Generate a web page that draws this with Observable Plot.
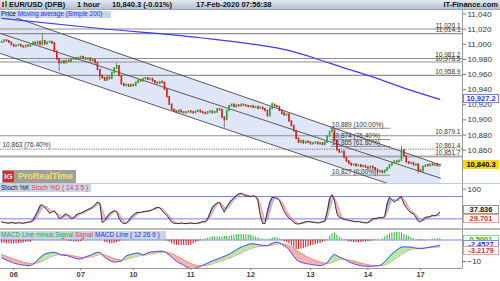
<!DOCTYPE html>
<html>
<head>
<meta charset="utf-8">
<script src="https://cdn.jsdelivr.net/npm/d3@7"></script>
<script src="https://cdn.jsdelivr.net/npm/@observablehq/plot@0.6"></script>
<style>
  html,body{margin:0;padding:0;background:#fff;}
  #root{position:relative;width:500px;height:281px;overflow:hidden;background:#fff;font-family:"Liberation Sans",Arial,sans-serif;}
</style>
</head>
<body>
<div id="root"></div>
<script>
// ---------------- DATA ----------------
const dayIdx = [5, 33, 55, 79, 104, 129, 153, 175];
const dayLabels = ["06", "07", "10", "11", "12", "13", "14", "17"];

const firstOpen = 11002;
const closes = [
  11003, 11005, 11004, 11002, 10999, 10997, 10998, 10999, 10997, 10996,
  10998, 10997, 10999, 11002, 11000, 11003, 10999, 11004, 11000, 11002,
  11003, 11001, 10990, 10980, 10975, 10977, 10975, 10978, 10977, 10980,
  10981, 10980, 10982, 10983, 10981, 10980, 10981, 10978, 10979, 10975,
  10966, 10958, 10955, 10952, 10956, 10954, 10962, 10968, 10971, 10958,
  10947, 10945, 10946, 10944, 10946, 10945, 10949, 10952, 10951, 10954,
  10955, 10953, 10954, 10951, 10949, 10948, 10950, 10949, 10940, 10930,
  10920, 10913, 10911, 10910, 10912, 10910, 10909, 10910, 10911, 10910,
  10909, 10911, 10912, 10910, 10909, 10908, 10910, 10911, 10909, 10910,
  10914, 10913, 10903, 10900, 10912, 10918, 10920, 10917, 10919, 10918,
  10920, 10919, 10918, 10917, 10918, 10916, 10917, 10915, 10916, 10914,
  10912, 10905, 10915, 10920, 10918, 10917, 10912, 10908, 10906, 10907,
  10898, 10892, 10885, 10875, 10870, 10872, 10869, 10871, 10870, 10868,
  10869, 10870, 10868, 10869, 10867, 10870, 10878, 10884, 10886, 10872,
  10860, 10857, 10858, 10850, 10845, 10842, 10840, 10841, 10839, 10840,
  10838, 10839, 10837, 10836, 10838, 10836, 10834, 10831, 10832, 10830,
  10833, 10836, 10840, 10843, 10845, 10844, 10846, 10860, 10852, 10844,
  10842, 10843, 10840, 10841, 10833, 10832, 10838, 10840, 10839, 10841,
  10840, 10841, 10839, 10840.3
];
const spikes = [[17, 11014, null], [24, null, 10964], [41, null, 10952], [48, 10975, null], [93, null, 10889],
  [113, 10923, null], [118, 10911, null], [138, 10889, null], [157, null, 10827], [167, 10865, null], [174, null, 10829]];

const maIdx = [0, 41, 83, 104, 121, 133, 142, 153, 171, 183];
const maVal = [11034.1, 11020.8, 11008.6, 11000.6, 10990.9, 10979.2, 10969.7, 10958.8, 10939, 10927.2];

const chanIdx = [-0.5, 183.3];
const chanUpper = [11042, 10840.5];
const chanMiddle = [11014.2, 10823];
const chanLower = [10987.8, 10792.6];

const levelVals = [11020.1, 11014.1, 10981.2, 10976.5, 10958.9, 10879.1];
const levelLabels = ["11,020.1", "11,014.1", "10,981.2", "10,976.5", "10,958.9", "10,879.1"];
const dotLevel = 10861.4, dotLabel = "10,861.4", dotLeftLabel = "10,863 (76.40%)";
const thickLevel = 10851.7, thickLabel = "10,851.7";

const fibVals = [10889, 10874, 10865, 10827];
const fibLabels = ["10,889 (100.00%)", "10,874 (76.40%)", "10,865 (61.80%)", "10,827 (0.00%)"];
const fibStart = 137.5, fibEnd = 162.5;

const yTicks = [10860, 10880, 10900, 10920, 10940, 10960, 10980, 11000, 11020, 11040];
const lastPrice = 10840.3, lastMA = 10927.2;

const stochK = [
  12, 10, 9, 8, 11, 9, 8, 10, 9, 8,
  10, 11, 12, 16, 28, 40, 55, 58, 50, 44,
  35, 38, 42, 32, 21, 22, 30, 34, 26, 21,
  22, 30, 34, 35, 38, 42, 45, 48, 51, 58,
  65, 62, 10, 14, 25, 34, 38, 42, 40, 22,
  11, 7, 8, 15, 24, 30, 35, 38, 37, 39,
  40, 41, 42, 45, 48, 51, 50, 42, 34, 30,
  20, 11, 8, 8, 7, 9, 8, 7, 8, 9,
  8, 7, 9, 10, 13, 12, 20, 35, 51, 58,
  62, 65, 50, 38, 52, 62, 70, 76, 83, 87,
  89, 85, 82, 81, 80, 82, 80, 70, 30, 8,
  7, 40, 65, 78, 77, 75, 70, 55, 40, 30,
  22, 18, 10, 7, 6, 8, 10, 12, 13, 12,
  11, 10, 9, 10, 13, 14, 40, 75, 85, 70,
  35, 24, 22, 18, 17, 16, 14, 13, 12, 13,
  11, 10, 9, 10, 15, 20, 21, 22, 24, 23,
  26, 60, 78, 72, 65, 70, 76, 80, 60, 51,
  42, 36, 34, 25, 14, 12, 18, 24, 25, 26,
  30, 28, 31, 37.836
];
const stochD = [
  11, 10, 10, 9, 9, 9, 9, 9, 9, 9,
  9, 10, 11, 12, 17, 27, 38, 48, 53, 52,
  46, 40, 38, 36, 31, 26, 24, 28, 30, 27,
  23, 24, 28, 33, 36, 38, 42, 45, 48, 52,
  57, 62, 45, 28, 16, 24, 32, 38, 40, 35,
  24, 14, 9, 10, 16, 23, 30, 34, 37, 38,
  39, 40, 41, 43, 45, 48, 50, 48, 42, 35,
  28, 20, 13, 9, 8, 8, 8, 8, 8, 8,
  8, 8, 8, 9, 10, 12, 15, 22, 35, 48,
  57, 62, 59, 51, 47, 51, 61, 69, 76, 82,
  86, 87, 85, 83, 81, 81, 81, 77, 60, 36,
  15, 18, 37, 61, 73, 77, 74, 67, 55, 42,
  31, 23, 17, 12, 8, 7, 8, 10, 12, 12,
  12, 11, 10, 10, 11, 12, 22, 43, 67, 77,
  63, 43, 27, 21, 19, 17, 16, 14, 13, 13,
  12, 11, 10, 10, 11, 15, 19, 21, 22, 23,
  24, 36, 55, 70, 72, 69, 70, 75, 72, 64,
  51, 43, 37, 32, 24, 17, 15, 18, 22, 25,
  27, 28, 29, 29.701
];
const stochLevels = [80, 20];

const macdLine = [
  -8.3, -8.8, -9.3, -9.8, -10.3, -10.7, -11.0, -11.3, -11.5, -11.7,
  -11.8, -11.9, -11.9, -11.3, -10.4, -9.4, -8.3, -7.3, -6.6, -6.2,
  -6.0, -5.8, -5.7, -6.0, -6.6, -7.0, -7.1, -7.2, -7.5, -7.9,
  -8.3, -8.6, -8.8, -8.8, -8.4, -7.9, -7.5, -7.2, -6.6, -6.1,
  -5.8, -5.7, -6.8, -8.0, -8.8, -9.5, -10.0, -10.3, -10.2, -10.0,
  -9.8, -8.6, -7.5, -7.0, -6.7, -6.4, -6.2, -6.1, -6.5, -7.0,
  -6.6, -6.0, -5.7, -5.5, -5.4, -5.3, -5.2, -5.2, -5.4, -6.2,
  -7.0, -8.0, -9.0, -9.9, -10.6, -11.1, -11.8, -12.4, -13.0, -13.4,
  -13.3, -13.0, -12.7, -12.3, -11.8, -11.3, -10.8, -10.2, -9.7, -9.3,
  -8.9, -8.5, -8.1, -7.6, -7.2, -6.6, -6.0, -5.3, -4.6, -3.9,
  -3.3, -2.9, -2.5, -2.1, -1.8, -1.8, -1.9, -2.1, -2.3, -2.5,
  -2.6, -2.6, -2.1, -1.6, -1.2, -1.0, -1.3, -2.0, -2.7, -3.3,
  -4.5, -6.0, -7.6, -9.0, -9.8, -10.3, -10.7, -11.0, -11.1, -11.3,
  -11.5, -11.7, -11.8, -11.9, -11.7, -11.3, -10.6, -9.0, -7.6, -6.7,
  -7.3, -7.9, -8.4, -8.8, -9.5, -10.1, -10.6, -11.0, -11.4, -11.7,
  -11.9, -12.1, -12.2, -12.3, -12.3, -12.2, -12.1, -12.0, -11.9, -11.2,
  -10.2, -9.0, -7.7, -6.6, -5.6, -4.7, -3.9, -3.3, -3.2, -3.2,
  -3.3, -3.3, -3.5, -3.8, -4.0, -4.1, -3.9, -3.7, -3.5, -3.3,
  -3.1, -2.9, -2.7, -2.4527
];
const macdSignal = [
  -6.8, -7.2, -7.6, -8.0, -8.4, -8.8, -9.2, -9.6, -9.9, -10.3,
  -10.6, -10.8, -11.0, -11.1, -11.0, -10.7, -10.3, -9.8, -9.2, -8.6,
  -8.1, -7.6, -7.2, -6.9, -6.8, -6.8, -6.8, -6.9, -7.0, -7.2,
  -7.4, -7.7, -7.9, -8.1, -8.2, -8.1, -8.0, -7.9, -7.7, -7.4,
  -7.1, -6.8, -6.8, -7.0, -7.4, -7.8, -8.3, -8.7, -9.0, -9.2,
  -9.4, -9.3, -9.0, -8.7, -8.4, -8.0, -7.7, -7.4, -7.2, -7.1,
  -7.0, -6.8, -6.6, -6.4, -6.2, -6.0, -5.8, -5.7, -5.6, -5.7,
  -5.9, -6.3, -6.8, -7.4, -8.0, -8.6, -9.2, -9.8, -10.4, -10.9,
  -11.4, -11.7, -11.9, -12.0, -12.0, -11.9, -11.7, -11.4, -11.1, -10.7,
  -10.4, -10.0, -9.6, -9.2, -8.8, -8.4, -8.0, -7.5, -7.0, -6.5,
  -5.9, -5.4, -4.9, -4.4, -4.0, -3.6, -3.3, -3.1, -2.9, -2.8,
  -2.7, -2.7, -2.6, -2.4, -2.2, -2.0, -1.8, -1.8, -1.9, -2.2,
  -2.6, -3.2, -3.9, -4.6, -5.4, -6.1, -6.8, -7.5, -8.1, -8.6,
  -9.1, -9.5, -9.9, -10.3, -10.6, -10.8, -10.9, -10.8, -10.4, -9.9,
  -9.5, -9.2, -9.0, -9.0, -9.1, -9.3, -9.5, -9.8, -10.1, -10.4,
  -10.7, -11.0, -11.3, -11.5, -11.7, -11.8, -11.9, -11.9, -11.9, -11.8,
  -11.6, -11.2, -10.6, -9.9, -9.1, -8.2, -7.4, -6.6, -5.9, -5.3,
  -4.8, -4.4, -4.1, -3.9, -3.8, -3.8, -3.8, -3.7, -3.6, -3.5,
  -3.4, -3.35, -3.3, -3.2179
];
const macdTicks = [-10];

// ---------------- BUILD ----------------
const root = document.getElementById("root");
const X_DOMAIN = [-0.5, 192.5];
const FONT = "Liberation Sans, Arial, sans-serif";

function place(el, top) {
  el.style.position = "absolute"; el.style.left = "0px"; el.style.top = top + "px";
  root.appendChild(el); return el;
}
function bands(a, b) {
  const out = []; let run = 0; let prev = null;
  for (let i = 0; i < a.length; i++) {
    const pos = a[i] >= b[i];
    if (prev !== null && pos !== prev) { run++; out.push({x: i - 1, y1: b[i - 1], y2: a[i - 1], pos, run}); }
    out.push({x: i, y1: b[i], y2: a[i], pos, run});
    prev = pos;
  }
  return out;
}

const candles = closes.map((c, i) => {
  const o = i === 0 ? firstOpen : closes[i - 1];
  const sp = spikes.find(s => s[0] === i);
  const hi = Math.max(o, c, sp && sp[1] != null ? sp[1] : -Infinity);
  const lo = Math.min(o, c, sp && sp[2] != null ? sp[2] : Infinity);
  return {i, o, c, hi, lo, up: c >= o};
});
const ma = maIdx.map((x, k) => ({x, v: maVal[k]}));
const channel = chanIdx.map((x, k) => ({x, up: chanUpper[k], mid: chanMiddle[k], lo: chanLower[k]}));
const levels = levelVals.map((v, k) => ({v, t: levelLabels[k]}));
const fibs = fibVals.map((v, k) => ({v, t: fibLabels[k]}));

const PRICE_TOP = 10;
const pricePlot = Plot.plot({
  width: 500, height: 173, marginLeft: 0, marginRight: 38, marginTop: 0, marginBottom: 0,
  style: {background: "transparent", fontFamily: FONT, fontSize: "8px", overflow: "visible"},
  x: {domain: X_DOMAIN, axis: null},
  y: {domain: [10816, 11044.6]},
  marks: [
    Plot.areaY(channel, {x: "x", y1: "lo", y2: "up", fill: "#dfe6f7", clip: true}),
    Plot.ruleY(levels, {y: "v", stroke: "#8f8f8f", strokeWidth: 1.1}),
    Plot.ruleY([dotLevel], {stroke: "#6f6f6f", strokeDasharray: "1.2,1.2"}),
    Plot.ruleY([thickLevel], {stroke: "#a9a9a9", strokeWidth: 2}),
    Plot.ruleY(fibs, {y: "v", x1: fibStart, x2: fibEnd, stroke: "#8c8c8c", strokeWidth: 1}),
    Plot.line(channel, {x: "x", y: "up", stroke: "#4a4a4a", strokeWidth: 0.9, clip: true}),
    Plot.line(channel, {x: "x", y: "mid", stroke: "#4a4a4a", strokeWidth: 0.9, clip: true}),
    Plot.line(channel, {x: "x", y: "lo", stroke: "#4a4a4a", strokeWidth: 0.9, clip: true}),
    Plot.line(ma, {x: "x", y: "v", stroke: "#3c3cff", strokeWidth: 1.2, curve: "monotone-x"}),
    Plot.ruleX(candles, {x: "i", y1: "lo", y2: "hi", stroke: "#3a3a3a", strokeWidth: 0.6}),
    Plot.ruleX(candles, {x: "i", y1: "o", y2: "c", stroke: d => d.up ? "#1fae2a" : "#e01b1b", strokeWidth: 1.6, strokeLinecap: "square"}),
    Plot.text(levels, {x: 192.5, y: "v", text: "t", textAnchor: "end", dx: -2, dy: -3.5, fontSize: 6.5, fill: "#333"}),
    Plot.text([dotLevel], {x: 192.5, y: d => d, text: () => dotLabel, textAnchor: "end", dx: -2, dy: -3.5, fontSize: 6.5, fill: "#333"}),
    Plot.text([dotLevel], {x: -0.5, y: d => d, text: () => dotLeftLabel, textAnchor: "start", dx: 2, dy: -4, fontSize: 6.5, fill: "#333"}),
    Plot.text([thickLevel], {x: 192.5, y: d => d, text: () => thickLabel, textAnchor: "end", dx: -2, dy: -4, fontSize: 6.5, fill: "#333"}),
    Plot.text(fibs, {x: fibStart, y: "v", text: "t", textAnchor: "start", dx: 1, dy: -3.5, fontSize: 6.5, fill: "#333"}),
    Plot.ruleX([192.5], {stroke: "#9a9a9a"}),
    Plot.axisY(yTicks, {anchor: "right", tickFormat: d3.format(","), tickSize: 3, tickPadding: 2, fontSize: 8, fill: "#333", stroke: "#777"})
  ]
});
place(pricePlot, PRICE_TOP);

const STOCH_TOP = 184;
const stochData = stochK.map((k, i) => ({i, k, d: stochD[i]}));
const stochPlot = Plot.plot({
  width: 500, height: 44, marginLeft: 0, marginRight: 38, marginTop: 0, marginBottom: 0,
  style: {background: "transparent", fontFamily: FONT, fontSize: "8px", overflow: "visible"},
  x: {domain: X_DOMAIN, axis: null},
  y: {domain: [-5.9, 112.4]},
  marks: [
    Plot.areaY(bands(stochK, stochD), {x: "x", y1: "y1", y2: "y2", z: "run", fill: d => d.pos ? "#a9a9e8" : "#f7c0c0"}),
    Plot.ruleY(stochLevels, {stroke: "#7d7df0", strokeWidth: 1}),
    Plot.line(stochData, {x: "i", y: "d", stroke: "#ec7a7a", strokeWidth: 0.8}),
    Plot.line(stochData, {x: "i", y: "k", stroke: "#222", strokeWidth: 0.9}),
    Plot.ruleX([192.5], {stroke: "#9a9a9a"}),
    Plot.axisY([100], {anchor: "right", tickSize: 3, tickPadding: 2, fontSize: 8, fill: "#333", stroke: "#777"})
  ]
});
place(stochPlot, STOCH_TOP);

const MACD_TOP = 230;
const macdData = macdLine.map((m, i) => ({i, m, s: macdSignal[i], h: m - macdSignal[i]}));
const macdPlot = Plot.plot({
  width: 500, height: 51, marginLeft: 0, marginRight: 38, marginTop: 0, marginBottom: 13,
  style: {background: "transparent", fontFamily: FONT, fontSize: "8px", overflow: "visible"},
  x: {domain: X_DOMAIN},
  y: {domain: [-13.26, 4.42]},
  marks: [
    Plot.areaY(bands(macdLine, macdSignal), {x: "x", y1: "y1", y2: "y2", z: "run", fill: d => d.pos ? "#adf0a4" : "#f5b4b4", clip: true}),
    Plot.ruleY([0], {stroke: "#7d7df0", strokeWidth: 1}),
    Plot.ruleX(macdData, {x: "i", y1: 0, y2: "h", stroke: d => d.h >= 0 ? "#33c033" : "#dc2020", strokeWidth: 1.1}),
    Plot.line(macdData, {x: "i", y: "s", stroke: "#ef8a6a", strokeWidth: 0.9, clip: true}),
    Plot.line(macdData, {x: "i", y: "m", stroke: "#4848ff", strokeWidth: 1, clip: true}),
    Plot.ruleX([192.5], {stroke: "#9a9a9a"}),
    Plot.ruleY([-13.26], {stroke: "#9a9a9a"}),
    Plot.axisY(macdTicks, {anchor: "right", tickSize: 3, tickPadding: 2, fontSize: 8, fill: "#333", stroke: "#777"}),
    Plot.axisX(dayIdx, {anchor: "bottom", tickFormat: d => dayLabels[dayIdx.indexOf(d)], tickSize: 2, tickPadding: 1, fontSize: 7.5, fontWeight: "bold", fill: "#444", stroke: "#777"})
  ]
});
place(macdPlot, MACD_TOP);

function div(style, html) {
  const d = document.createElement("div");
  d.setAttribute("style", "position:absolute;" + style);
  d.innerHTML = html; root.appendChild(d); return d;
}
div("left:0;top:0;width:500px;height:10px;background:linear-gradient(#e3e9f0,#b3c1d0);border-bottom:1px solid #9aa8b8;box-sizing:border-box;", "");
div("left:2px;top:2px;width:2px;height:5px;background:#e02020;", "");
div("left:5px;top:1px;width:2px;height:6px;background:#20b020;", "");
const hs = "top:0;font-size:7.5px;line-height:10px;font-weight:bold;color:#111;white-space:nowrap;";
div("left:9px;" + hs, "EUR/USD (DFB)");
div("left:77px;" + hs, "1 hour");
div("left:112px;" + hs, "10,840.3 (-0.01%)");
div("left:196px;" + hs, "17-Feb-2020 07:56:38");
div("right:2px;" + hs, "IT-Finance.com");

div("left:0;top:11px;height:7px;width:111px;background:#c9d4e7;", "");
div("left:1px;top:10px;font-size:6.5px;line-height:8px;white-space:nowrap;", '<span style="color:#111">Price</span> <span style="color:#3030ff">Moving average (Simple 200)</span>');

div("left:0;top:183px;width:500px;height:1px;background:#c4ccd8;", "");
div("left:0;top:228px;width:500px;height:2px;background:#b9b9b9;", "");

div("left:2px;top:170px;width:74px;height:13px;background:#9f9f9f;", "");
div("left:3px;top:171px;width:11px;height:11px;background:#e3262b;color:#fff;font-size:8px;font-weight:bold;line-height:11px;text-align:center;", "IG");
div("left:18px;top:170px;font-size:9px;line-height:13px;font-weight:bold;color:#f3e35a;white-space:nowrap;", "ProRealTime");

div("left:0;top:184px;height:7.5px;width:91px;background:#c9d4e7;", "");
div("left:1px;top:183.5px;font-size:6.5px;line-height:8px;white-space:nowrap;", '<span style="color:#111">Stoch %K</span> <span style="color:#e03a3a">Stoch %D ( 14 3 5 )</span>');

div("left:0;top:231px;height:8px;width:166px;background:#c9d4e7;", "");
div("left:1px;top:231px;font-size:6.5px;line-height:8px;white-space:nowrap;", '<span style="color:#22b022">MACD Line minus Signal</span> <span style="color:#e03a3a">Signal</span> <span style="color:#2a2aff">MACD Line ( 12 26 9 )</span>');

const py = pricePlot.scale("y"), sy = stochPlot.scale("y"), my = macdPlot.scale("y");
function tag(text, centerY, style) {
  div("left:463px;top:" + (centerY - 4.5) + "px;width:36px;height:9px;line-height:9px;font-size:7.5px;font-weight:bold;text-align:center;box-sizing:border-box;white-space:nowrap;" + style, text);
}
tag("10,927.2", PRICE_TOP + py.apply(lastMA), "background:#fff;color:#3030ff;border:1px solid #7a7aff;line-height:7px;");
tag("10,840.3", PRICE_TOP + py.apply(lastPrice), "background:#ffd60a;color:#000;");
const kY = STOCH_TOP + sy.apply(stochK[stochK.length - 1]) - 2;
tag("37.836", kY, "background:#fff;color:#111;border:1px solid #999;line-height:7px;");
tag("29.701", Math.max(STOCH_TOP + sy.apply(stochD[stochD.length - 1]), kY + 9), "background:#fff;color:#e03030;border:1px solid #f0a0a0;line-height:7px;");
const hY = MACD_TOP + my.apply(0.5001) + 1;
tag("0.5001", hY, "background:#fff;color:#22aa22;border:1px solid #88dd88;line-height:7px;");
const bY = MACD_TOP + my.apply(macdLine[macdLine.length - 1]);
tag("-2.4527", bY, "background:#fff;color:#2a2aff;border:1px solid #8888ff;line-height:7px;");
tag("-3.2179", Math.max(MACD_TOP + my.apply(macdSignal[macdSignal.length - 1]), bY + 5.5), "background:#fff;color:#e03030;border:1px solid #f0a0a0;line-height:7px;");
</script>
</body>
</html>
